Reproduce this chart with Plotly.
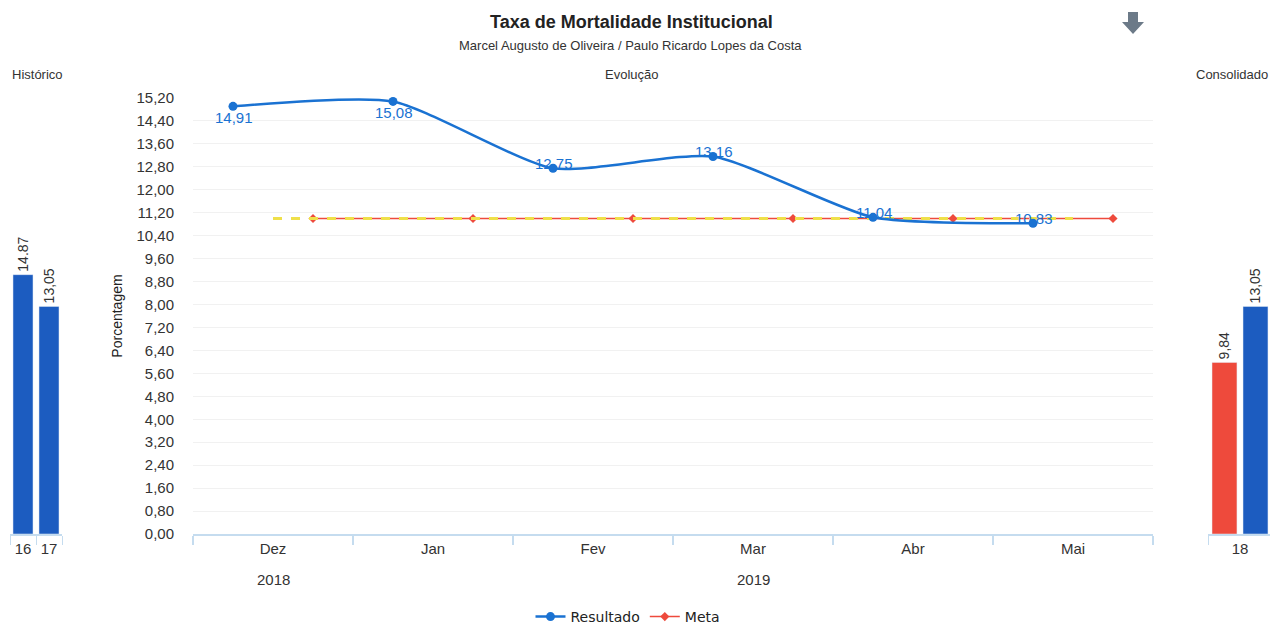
import plotly.graph_objects as go
import numpy as np

# page body adds an 8px margin; the figure is sized/positioned to compensate
OFF = 8
W, H = 1270, 619

# ---- data ----
meses = ["Dez", "Jan", "Fev", "Mar", "Abr", "Mai"]
anos = ["2018", "2019"]
ano_pos = [0, 3]
resultado = [14.91, 15.08, 12.75, 13.16, 11.04, 10.83]
meta = [11.0, 11.0, 11.0, 11.0, 11.0, 11.0]
hist_cat = ["16", "17"]
hist_val = [14.87, 13.05]
hist_txt = ["14.87", "13,05"]
cons_cat = ["18"]
cons_meta = [9.84]
cons_res = [13.05]
y_ticks = [round(0.8 * i, 2) for i in range(20)]


def px(x):
    return (x - OFF) / W


def py(y):
    return 1 - (y - OFF) / H


def br(v):
    return f"{v:.2f}".replace(".", ",")


BLUE = "#1a72d2"
BAR_BLUE = "#1c5cc0"
RED = "#ee4a3c"
YELLOW = "#efe04a"
AXIS = "#c5dcef"
TXT = "#333333"
FONT = "Liberation Sans, Arial, sans-serif"

idx = np.arange(len(meses))
x_res = idx - 0.25
x_meta = idx + 0.25

fig = go.Figure()

fig.add_trace(go.Scatter(x=x_meta, y=meta, mode="lines+markers", name="Meta",
                         line=dict(color=RED, width=1.5),
                         marker=dict(symbol="diamond", size=7, color=RED),
                         xaxis="x", yaxis="y"))
fig.add_trace(go.Scatter(x=idx, y=meta, mode="lines", showlegend=False,
                         line=dict(color=YELLOW, width=3, dash="dash"),
                         hoverinfo="skip", xaxis="x", yaxis="y"))
fig.add_trace(go.Scatter(x=x_res, y=resultado, mode="lines+markers", name="Resultado",
                         line=dict(color=BLUE, width=2.5, shape="spline", smoothing=0.6),
                         marker=dict(symbol="circle", size=9, color=BLUE),
                         xaxis="x", yaxis="y", cliponaxis=False))

fig.add_trace(go.Bar(x=hist_cat, y=hist_val, marker_color=BAR_BLUE, width=0.77,
                     text=hist_txt, textposition="outside", textangle=-90, constraintext="none",
                     textfont=dict(size=14, color=TXT, family=FONT),
                     showlegend=False, xaxis="x2", yaxis="y2", cliponaxis=False))

fig.add_trace(go.Bar(x=cons_cat, y=cons_meta, marker_color=RED, width=0.39, offset=-0.4375,
                     text=[br(v) for v in cons_meta], textposition="outside", textangle=-90,
                     constraintext="none",
                     textfont=dict(size=14, color=TXT, family=FONT),
                     showlegend=False, xaxis="x3", yaxis="y3", cliponaxis=False))
fig.add_trace(go.Bar(x=cons_cat, y=cons_res, marker_color=BAR_BLUE, width=0.39, offset=0.047,
                     text=[br(v) for v in cons_res], textposition="outside", textangle=-90,
                     constraintext="none",
                     textfont=dict(size=14, color=TXT, family=FONT),
                     showlegend=False, xaxis="x3", yaxis="y3", cliponaxis=False))

annotations = []
for i, (xv, yv) in enumerate(zip(x_res, resultado)):
    annotations.append(dict(x=xv, y=yv, xref="x", yref="y", text=br(yv), showarrow=False,
                            yanchor="middle", yshift=-11 if i < 2 else 5, xshift=1,
                            font=dict(size=15, color=BLUE, family=FONT)))
for a, p in zip(anos, ano_pos):
    annotations.append(dict(x=p, y=py(579), xref="x", yref="paper", text=a, showarrow=False,
                            yanchor="middle", font=dict(size=15, color=TXT, family=FONT)))


def lab(x, y, text, size, color=TXT):
    return dict(x=px(x), y=py(y), xref="paper", yref="paper", text=text, showarrow=False,
                xanchor="center", yanchor="middle", font=dict(size=size, color=color, family=FONT))


annotations += [
    lab(631, 22, "<b>Taxa de Mortalidade Institucional</b>", 18, "#222222"),
    lab(630, 45, "Marcel Augusto de Oliveira / Paulo Ricardo Lopes da Costa", 13),
    lab(631, 74, "Evolução", 13),
    lab(37, 74, "Histórico", 13),
    lab(1232, 74, "Consolidado", 13),
]

pts = [(1128, 12), (1138, 12), (1138, 22), (1144, 22), (1133, 34), (1122, 22), (1128, 22)]
path = "M " + " L ".join(f"{px(a):.5f},{py(b):.5f}" for a, b in pts) + " Z"
shapes = [dict(type="path", path=path, xref="paper", yref="paper",
               fillcolor="#6c7a88", line=dict(width=0))]

ydom = [py(534), py(98)]

fig.update_layout(
    width=W, height=H, margin=dict(l=0, r=0, t=0, b=0, autoexpand=False),
    paper_bgcolor="white", plot_bgcolor="white",
    separators=",.",
    font=dict(family=FONT, size=15, color=TXT),
    showlegend=True,
    legend=dict(orientation="h", x=px(628), xanchor="center", y=py(617), yanchor="middle",
                font=dict(family="DejaVu Sans, sans-serif", size=14, color="#222222"),
                traceorder="reversed"),
    annotations=annotations, shapes=shapes,
    barmode="overlay",
    xaxis=dict(domain=[px(193), px(1153)], range=[-0.5, 5.5], tickmode="array",
               tickvals=list(idx), ticktext=meses, ticks="", showgrid=False, zeroline=False,
               showline=True, linecolor=AXIS, linewidth=1.5,
               minor=dict(tickmode="array", tickvals=list(np.arange(-0.5, 6, 1.0)), ticks="outside",
                          ticklen=9, tickcolor=AXIS, tickwidth=1.5, showgrid=False),
               tickfont=dict(size=15, color=TXT), fixedrange=True, anchor="y"),
    yaxis=dict(domain=ydom, range=[0, 15.2], tickmode="array", tickvals=y_ticks,
               tickformat=".2f", showgrid=True, gridcolor="#f1f1f1", zeroline=False,
               ticks="", ticklabelstandoff=18, tickfont=dict(size=15, color=TXT),
               title=dict(text="Porcentagem", font=dict(size=14, color="#222222"), standoff=10),
               anchor="x", fixedrange=True),
    xaxis2=dict(domain=[px(10), px(62)], type="category", tickson="boundaries", ticks="outside",
                ticklen=9, tickcolor=AXIS, showline=True, linecolor=AXIS, linewidth=1.5,
                showgrid=False, tickfont=dict(size=15, color=TXT), anchor="y2"),
    yaxis2=dict(domain=ydom, range=[0, 25], visible=False, anchor="x2"),
    xaxis3=dict(domain=[px(1208), px(1272)], type="category", tickson="boundaries", ticks="outside",
                ticklen=9, tickcolor=AXIS, showline=True, linecolor=AXIS, linewidth=1.5,
                showgrid=False, tickfont=dict(size=15, color=TXT), anchor="y3", range=[-0.5, 0.5]),
    yaxis3=dict(domain=ydom, range=[0, 25], visible=False, anchor="x3"),
)

fig.write_html("out.html")
